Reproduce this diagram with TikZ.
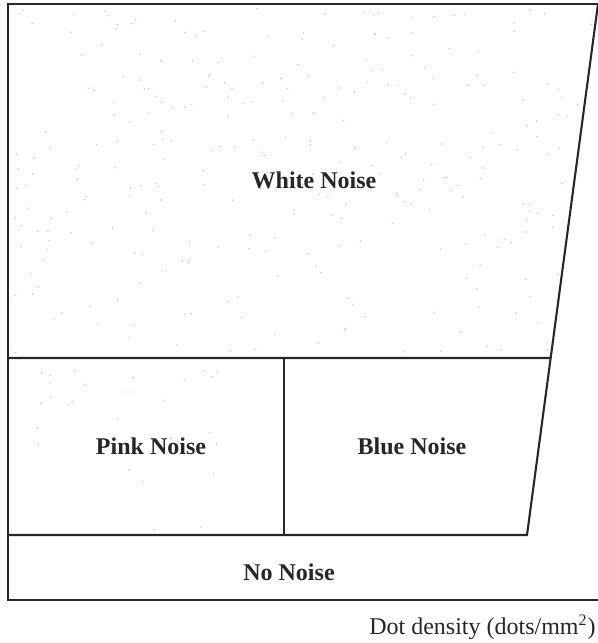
\documentclass[tikz,border=0pt]{standalone}
\usepackage{fontspec}
\setmainfont{Liberation Serif}
\usepackage{xcolor}
\usepackage{tikz}
\usetikzlibrary{calc}
\definecolor{inkd}{HTML}{262626}
\definecolor{speck}{HTML}{C4C4C4}
\tikzset{
  % region borders and the labels sitting in them
  edge/.style   = {line width=1.05pt, inkd, line join=miter},
  region/.style = {font=\bfseries\fontsize{12}{14}\selectfont, text=inkd, inner sep=0pt},
  axis/.style   = {font=\fontsize{12}{14}\selectfont, text=inkd, inner sep=0pt},
  dot/.style    = {fill=speck},
}

\begin{document}
\begin{tikzpicture}[x=0.5pt,y=-0.5pt]
\useasboundingbox (0,0) rectangle (598,643);
\coordinate (tl) at (8,4);
\coordinate (tr) at (598,4);
\coordinate (br) at (527,535);
\coordinate (bl) at (8,535);
\coordinate (ml) at (8,358);
\coordinate (mr) at ($(tr)!354/531!(br)$);
\coordinate (dt) at (284,358);
\coordinate (db) at (284,535);
\coordinate (nl) at (8,600);
\coordinate (nr) at (598,600);
% speckles of the noise fields
\pgfmathsetseed{11}
\begin{scope}
  \clip (tl) -- (tr) -- (mr) -- (ml) -- cycle;
  \foreach \k in {1,...,300}
    {\fill[dot] (12+585*rnd,8+346*rnd) circle (0.42pt);}
\end{scope}
\foreach \k in {1,...,22}
  {\fill[dot] (35+200*rnd,365+80*rnd) circle (0.42pt);}
\foreach \k in {1,...,6}
  {\fill[dot] (60+220*rnd,440+90*rnd) circle (0.42pt);}
% borders
\draw[edge] (tr) -- (tl) -- (nl) -- (nr);
\draw[edge] (tr) -- (br) -- (bl);
\draw[edge] (ml) -- (mr);
\draw[edge] (dt) -- (db);
% labels
\node[region] (white) at (314,180) {White Noise};
\node[region] (pink)  at (151,446) {Pink Noise};
\node[region] (blue)  at (412,446) {Blue Noise};
\node[region] (none)  at (289,572) {No Noise};
\node[axis, anchor=east] (dens) at (596,627) {Dot density (dots/mm\textsuperscript{2})};
\end{tikzpicture}
\end{document}
